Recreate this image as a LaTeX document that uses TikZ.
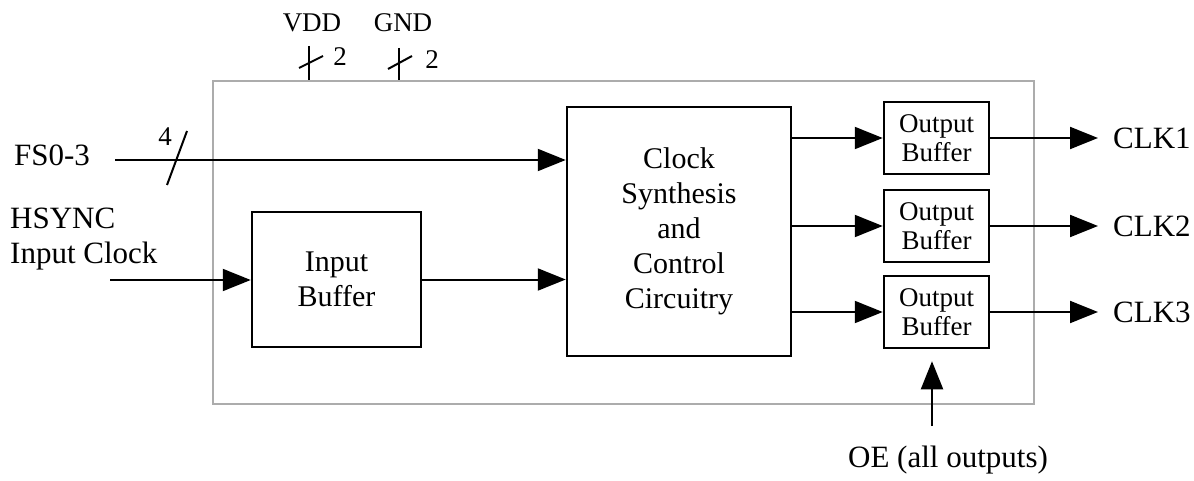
\documentclass[tikz,border=0pt]{standalone}
\usepackage{fontspec}
\setmainfont{Liberation Serif}
\usetikzlibrary{arrows.meta}

\begin{document}
\begin{tikzpicture}[
    x=1pt, y=-1pt,
    block/.style={
        rectangle,
        draw=black,
        line width=2.5pt,
        inner sep=0pt,
        font=\fontsize{30}{35}\selectfont,
        align=center
    },
    obuf/.style={
        block,
        minimum width=105pt,
        minimum height=72pt,
        font=\fontsize{27}{29}\selectfont
    },
    txt/.style={
        inner sep=0pt,
        font=\fontsize{31}{35}\selectfont,
        align=left
    },
    pinlbl/.style={
        inner sep=0pt,
        font=\fontsize{27}{29}\selectfont
    },
    wire/.style={line width=2pt},
    sig/.style={
        wire,
        -{Triangle[length=28pt,width=22pt]}
    }
]
\useasboundingbox (0,0) rectangle (1194,481);

\node[draw=gray!65, line width=2pt, minimum width=821pt, minimum height=323pt] (chip) at (623.5,242.5) {};

\node[block, minimum width=169pt, minimum height=135pt] (inbuf) at (336.5,279.5) {Input\\Buffer};
\node[block, minimum width=224pt, minimum height=249pt] (synth) at (679,231.5) {Clock\\Synthesis\\and\\Control\\Circuitry};

% output buffers and clock outputs
\coordinate (clkx) at (1113,0);
\foreach \i/\y in {1/138, 2/226, 3/312} {
    \node[obuf] (obuf\i) at (936.5,\y) {Output\\Buffer};
    \node[txt, anchor=west] (clk\i) at (clkx |- obuf\i) {CLK\i};
    \draw[sig] (synth.east |- obuf\i) -- (obuf\i);
    \draw[sig, shorten >=15pt] (obuf\i) -- (clk\i.west |- obuf\i);
}

% FS0-3 bus
\node[txt] (fs) at (52,155) {FS0-3};
\coordinate (fsin) at (115,160);
\draw[sig] (fsin) -- (synth.west |- fsin);
\draw[wire] (167,185) -- (187,131);
\node[pinlbl] (fsn) at (165,137) {4};

% HSYNC input
\node[txt, anchor=west] (hsync) at (10,239) {HSYNC\\Input Clock};
\coordinate (hsin) at (110,280);
\draw[sig] (hsin) -- (inbuf.west |- hsin);
\draw[sig] (inbuf) -- (synth.west |- inbuf);

% supply pins
\node[pinlbl] (vdd) at (312,23) {VDD};
\coordinate (vddpin) at (309,46);
\draw[wire] (vddpin) -- (vddpin |- chip.north);
\draw[wire] (299,68) -- (323,56);
\node[pinlbl] (vddn) at (340,57) {2};

\node[pinlbl] (gnd) at (403,23) {GND};
\coordinate (gndpin) at (399,48);
\draw[wire] (gndpin) -- (gndpin |- chip.north);
\draw[wire] (388,69) -- (412,56);
\node[pinlbl] (gndn) at (432,60) {2};

% output enable
\node[txt] (oe) at (948,460) {OE (all outputs)};
\coordinate (oein) at (932,426);
\draw[sig, shorten >=12pt] (oein) -- (oein |- obuf3.south);

\end{tikzpicture}
\end{document}
